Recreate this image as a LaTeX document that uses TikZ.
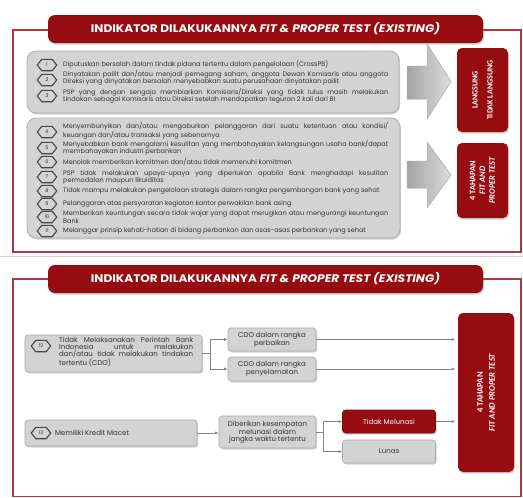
\documentclass[tikz,border=0pt]{standalone}
\usepackage{fontspec}
\setmainfont{Poppins}
\newfontfamily\condfont{Carlito}
\usetikzlibrary{shadows,arrows.meta}

\definecolor{bannerred}{HTML}{960C10}
\definecolor{framered}{HTML}{B3363A}
\definecolor{boxgray}{HTML}{D3D3D3}
\definecolor{boxedge}{HTML}{A9A9A9}
\definecolor{inkgray}{HTML}{333333}
\definecolor{linegray}{HTML}{858585}
\definecolor{arrowdark}{HTML}{A4A4A4}
\definecolor{arrowlight}{HTML}{DCDCDC}

% numbered hexagon badge: name, x, y, number
\newcommand\hexbadge[4]{%
  \node[badge] (#1) at (#2,#3) {#4};
  \draw[badgeline] (#1.west) -- ([xshift=4.5pt]#1.north west) -- ([xshift=-4.5pt]#1.north east)
    -- (#1.east) -- ([xshift=-4.5pt]#1.south east) -- ([xshift=4.5pt]#1.south west) -- cycle;}

\tikzset{
  frame/.style={draw=framered, line width=1.6pt},
  softshadow/.style={drop shadow={shadow xshift=1.1pt, shadow yshift=-1.6pt, opacity=0.35}},
  banner/.style={fill=bannerred, rounded corners=7pt, minimum width=435pt, minimum height=28pt,
    inner sep=0pt, softshadow},
  titletext/.style={text=white, inner sep=0pt, xscale=1.1, font=\fontsize{11}{12}\selectfont\bfseries},
  panelbox/.style={fill=boxgray, draw=boxedge, line width=0.7pt, rounded corners=9pt, inner sep=0pt, softshadow},
  redbox/.style={fill=bannerred, rounded corners=5pt, inner sep=0pt, softshadow},
  smallbox/.style={fill=boxgray, draw=boxedge, line width=0.6pt, rounded corners=3pt, inner sep=0pt,
    align=center, text=inkgray, font=\fontsize{7}{7}\selectfont, softshadow},
  redsmall/.style={smallbox, fill=bannerred, draw=bannerred!80!black, text=white},
  sidetext/.style={text=white, align=center, inner sep=0pt, rotate=90},
  badge/.style={minimum width=19pt, minimum height=11pt, inner sep=0pt, text=inkgray,
    font=\fontsize{5}{5}\selectfont},
  badgeline/.style={draw=inkgray!90, line width=1.1pt},
  itemtext/.style={anchor=west, text width=325pt, align=justify, inner sep=0pt, text=inkgray,
    font=\fontsize{6.5}{7.2}\selectfont},
  bottext/.style={inner sep=0pt, text=inkgray, font=\fontsize{7}{6.9}\selectfont},
  blockarrow/.style={left color=arrowdark, right color=arrowlight, draw=arrowdark!80, line width=0.4pt},
  conn/.style={draw=linegray, line width=0.7pt},
  arr/.style={conn, -{Latex[length=3.5pt,width=3pt]}},
}

\begin{document}
\begin{tikzpicture}[x=1pt, y=-1pt]
\useasboundingbox (0,0) rectangle (523,498);
\fill[white] (0,0) rectangle (523,498);

% ---------------- upper panel ----------------
\draw[frame] (13,30) rectangle (521,252);
\draw[gray!35, line width=0.6pt] (0,256) -- (523,256);
\node[banner] (title1) at (265.5,29) {};
\node[titletext] (title1txt) at (title1.center) {INDIKATOR DILAKUKANNYA \textit{FIT \& PROPER TEST (EXISTING)}};

\node[panelbox, minimum width=372pt, minimum height=62pt] (grp1) at (213,82) {};
\node[panelbox, minimum width=373pt, minimum height=120pt] (grp2) at (213.5,178) {};

\hexbadge{n1}{47}{65}{1}
\node[itemtext] (t1) at (63,64) {Diputuskan bersalah dalam tindak pidana tertentu dalam pengelolaan (CrossPB)};
\hexbadge{n2}{47}{80}{2}
\node[itemtext] (t2) at (63,78) {Dinyatakan pailit dan/atau menjadi pemegang saham, anggota Dewan Komisaris atau anggota\linebreak Direksi yang dinyatakan bersalah menyebabkan suatu perusahaan dinyatakan pailit};
\hexbadge{n3}{47}{96}{3}
\node[itemtext] (t3) at (63,96) {PSP yang dengan sengaja membiarkan Komisaris/Direksi yang tidak lulus masih melakukan\linebreak tindakan sebagai Komisaris atau Direksi setelah mendapatkan teguran 2 kali dari BI};

\hexbadge{n4}{47}{132}{4}
\node[itemtext] (t4) at (63,131) {Menyembunyikan dan/atau mengaburkan pelanggaran dari suatu ketentuan atau kondisi/\linebreak keuangan dan/atau transaksi yang sebenarnya};
\hexbadge{n5}{47}{148}{5}
\node[itemtext] (t5) at (63,148) {Menyebabkan bank mengalami kesulitan yang membahayakan kelangsungan usaha bank/dapat\linebreak membahayakan industri perbankan};
\hexbadge{n6}{47}{162}{6}
\node[itemtext] (t6) at (63,162) {Menolak memberikan komitmen dan/atau tidak memenuhi komitmen};
\hexbadge{n7}{47}{177}{7}
\node[itemtext] (t7) at (63,177) {PSP tidak melakukan upaya-upaya yang diperlukan apabila Bank menghadapi kesulitan\linebreak permodalan maupun likuiditas};
\hexbadge{n8}{47}{191}{8}
\node[itemtext] (t8) at (63,191) {Tidak mampu melakukan pengelolaan strategis dalam rangka pengembangan bank yang sehat};
\hexbadge{n9}{47}{204}{9}
\node[itemtext] (t9) at (63,204) {Pelanggaran atas persyaratan kegiatan kantor perwakilan bank asing};
\hexbadge{n10}{47}{217}{10}
\node[itemtext] (t10) at (63,217) {Memberikan keuntungan secara tidak wajar yang dapat merugikan atau mengurangi keuntungan\linebreak Bank};
\hexbadge{n11}{47}{231}{11}
\node[itemtext] (t11) at (63,231) {Melanggar prinsip kehati-hatian di bidang perbankan dan asas-asas perbankan yang sehat};

% block arrows
\filldraw[blockarrow] (407,66) -- (427,66) -- (427,44) -- (451,81.5) -- (427,119) -- (427,99) -- (407,99) -- cycle;
\filldraw[blockarrow] (407,161) -- (427,161) -- (427,142) -- (451,175) -- (427,208) -- (427,188) -- (407,188) -- cycle;

\node[redbox, minimum width=51pt, minimum height=84pt] (direct) at (482.5,90) {};
\node[sidetext, font=\condfont\bfseries\fontsize{8}{15}\selectfont] (directtxt) at (direct.center) {LANGSUNG\\TIDAK LANGSUNG};
\node[redbox, minimum width=51pt, minimum height=75pt] (stages1) at (482.5,180.5) {};
\node[sidetext, font=\condfont\bfseries\fontsize{8.4}{9.8}\selectfont] (stages1txt) at (stages1.center) {4 TAHAPAN\\\textit{FIT AND}\\\textit{PROPER TEST}};

% ---------------- lower panel ----------------
\draw[frame] (13,279) rectangle (521,496.5);
\node[banner] (title2) at (265.5,279) {};
\node[titletext] (title2txt) at (title2.center) {INDIKATOR DILAKUKANNYA \textit{FIT \& PROPER TEST (EXISTING)}};

\node[smallbox, minimum width=177pt, minimum height=37pt] (b12) at (113.5,353.5) {};
\hexbadge{n12}{41}{346}{12}
\node[bottext, anchor=west, text width=134pt, align=justify] (t12) at (59,352) {Tidak Melaksanakan Perintah Bank\linebreak Indonesia untuk melakukan\linebreak dan/atau tidak melakukan tindakan\linebreak tertentu (CDO)};

\node[smallbox, minimum width=88pt, minimum height=23pt] (cdo1) at (272,339.5) {CDO dalam rangka\\perbaikan};
\node[smallbox, minimum width=88pt, minimum height=24pt] (cdo2) at (272,369) {CDO dalam rangka\\penyelamatan};

\node[smallbox, minimum width=172pt, minimum height=26pt] (b13) at (111,433) {};
\hexbadge{n13}{41}{433}{13}
\node[bottext, anchor=west] (t13) at (55,433) {Memiliki Kredit Macet};

\node[smallbox, minimum width=97pt, minimum height=32pt] (dib) at (267.5,432) {Diberikan kesempatan\\melunasi dalam\\jangka waktu tertentu};
\node[redsmall, minimum width=93pt, minimum height=23pt] (tm) at (389,421.5) {Tidak Melunasi};
\node[smallbox, minimum width=93pt, minimum height=23pt] (lunas) at (389,451.5) {Lunas};

\node[redbox, minimum width=56pt, minimum height=159pt] (stages2) at (486,392.5) {};
\node[sidetext, font=\condfont\bfseries\fontsize{8.6}{12}\selectfont] (stages2txt) at (stages2.center) {4 TAHAPAN\\\textit{FIT AND PROPER TEST}};

% connectors
\coordinate (j12) at (210,353.5);
\draw[conn] (b12.east) -- (j12);
\draw[arr] (j12) |- (cdo1.west);
\draw[arr] (j12) |- (cdo2.west);
\draw[arr, shorten >=2.5pt] (cdo1.east) -- (cdo1.east -| stages2.west);
\draw[arr, shorten >=2.5pt] (cdo2.east) -- (cdo2.east -| stages2.west);

\draw[arr] (b13.east) -- (b13.east -| dib.west);
\coordinate (j13) at (323,432);
\draw[conn] (dib.east) -- (j13);
\draw[arr] (j13) |- (tm.west);
\draw[arr] (j13) |- (lunas.west);
\draw[arr, shorten >=2.5pt] (tm.east) -- (tm.east -| stages2.west);
\end{tikzpicture}
\end{document}
